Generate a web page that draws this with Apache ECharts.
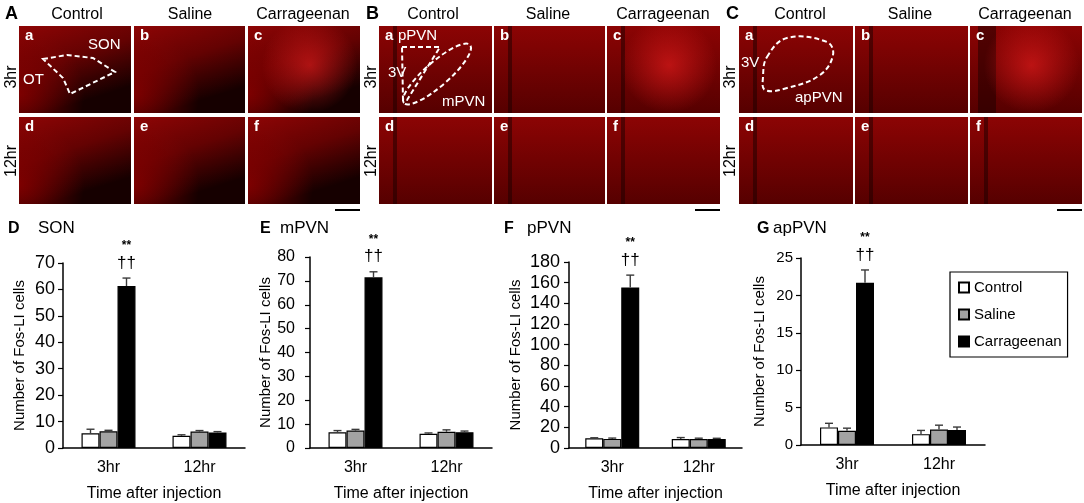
<!DOCTYPE html>
<html>
<head>
<meta charset="utf-8">
<script src="https://cdn.jsdelivr.net/npm/echarts@6/dist/echarts.min.js"></script>
<style>
  html, body { margin: 0; padding: 0; background: #fff; }
  #main { width: 1084px; height: 503px; }
</style>
</head>
<body>
<div id="main"></div>
<script>
var FONT = 'Liberation Sans, Arial, sans-serif';

/* categories */
var timeGroups = ['3hr', '12hr'];
var treatments = ['Control', 'Saline', 'Carrageenan'];
var treatmentColors = ['#ffffff', '#a3a3a3', '#000000'];

/* mean values, rows = Control, Saline, Carrageenan ; cols = 3hr, 12hr */
var sonMean = [[5.6, 4.6], [6.3, 6.2], [61.3, 5.9]];
var sonErr = [[1.5, 0.4], [0.4, 0.4], [3.0, 0.3]];
var mpvnMean = [[6.6, 6.0], [7.3, 6.8], [71.5, 6.6]];
var mpvnErr = [[0.7, 0.3], [0.5, 0.8], [2.3, 0.5]];
var ppvnMean = [[9.4, 8.6], [8.8, 8.6], [155.3, 8.6]];
var ppvnErr = [[0.5, 1.5], [0.8, 0.9], [12.0, 0.8]];
var appvnMean = [[2.35, 1.45], [1.9, 2.07], [21.7, 2.0]];
var appvnErr = [[0.55, 0.5], [0.35, 0.58], [1.7, 0.4]];

/* y axis ranges: min, max, interval */
var sonAxis = [0, 70, 10];
var mpvnAxis = [0, 80, 10];
var ppvnAxis = [0, 180, 20];
var appvnAxis = [0, 25, 5];

/* significance marks on Carrageenan 3hr */
var sigMarks = ['**', '††'];

var BAR_W = 18;

var panels = [
    {letter: 'D', title: 'SON', mean: sonMean, err: sonErr, axis: sonAxis,
     grid: {left: 63, top: 263, width: 182, height: 185}, nameGap: 36, labelSize: 18, labelMargin: 8, titleX: 8, nameX: 38},
    {letter: 'E', title: 'mPVN', mean: mpvnMean, err: mpvnErr, axis: mpvnAxis,
     grid: {left: 310, top: 257, width: 182, height: 191}, nameGap: 35, labelSize: 16, labelMargin: 15, titleX: 260, nameX: 280},
    {letter: 'F', title: 'pPVN', mean: ppvnMean, err: ppvnErr, axis: ppvnAxis,
     grid: {left: 569, top: 262, width: 173, height: 186}, nameGap: 46, labelSize: 18, labelMargin: 9, titleX: 504, nameX: 527},
    {letter: 'G', title: 'apPVN', mean: appvnMean, err: appvnErr, axis: appvnAxis,
     grid: {left: 801, top: 258, width: 184, height: 187}, nameGap: 34, labelSize: 15, labelMargin: 8, titleX: 757, nameX: 773}
];

function errorBarSeries(gi, ti, means, errs) {
    return {
        type: 'custom',
        xAxisIndex: gi,
        yAxisIndex: gi,
        z: 5,
        silent: true,
        data: means.map(function (m, i) { return [i, m, errs[i]]; }),
        encode: {x: 0, y: 1},
        renderItem: function (params, api) {
            var base = api.coord([api.value(0), api.value(1)]);
            var top = api.coord([api.value(0), api.value(1) + api.value(2)]);
            var x = base[0] + (ti - 1) * BAR_W;
            var st = {stroke: '#3a3a3a', lineWidth: 1.4};
            var children = [
                {type: 'line', shape: {x1: x, y1: base[1], x2: x, y2: top[1]}, style: st},
                {type: 'line', shape: {x1: x - 4, y1: top[1], x2: x + 4, y2: top[1]}, style: st}
            ];
            if (ti === 2 && params.dataIndex === 0) {
                children.push({type: 'text', x: x, y: top[1] - 15,
                    style: {text: sigMarks[1], fill: '#000', font: '17px ' + FONT,
                        textAlign: 'center', textVerticalAlign: 'middle'}});
                children.push({type: 'text', x: x, y: top[1] - 32,
                    style: {text: sigMarks[0], fill: '#000', font: 'bold 12px ' + FONT,
                        textAlign: 'center', textVerticalAlign: 'middle'}});
            }
            return {type: 'group', children: children};
        }
    };
}

var grids = [], xAxes = [], yAxes = [], series = [];
panels.forEach(function (p, gi) {
    grids.push(Object.assign({containLabel: false}, p.grid));
    xAxes.push({
        type: 'category', gridIndex: gi, data: timeGroups,
        axisLine: {lineStyle: {color: '#000', width: 1.5}},
        axisTick: {show: false},
        axisLabel: {color: '#000', fontSize: 16, fontFamily: FONT, margin: 12},
        name: 'Time after injection', nameLocation: 'middle', nameGap: 38,
        nameTextStyle: {color: '#000', fontSize: 16, fontFamily: FONT}
    });
    yAxes.push({
        type: 'value', gridIndex: gi, min: p.axis[0], max: p.axis[1], interval: p.axis[2],
        axisLine: {show: true, lineStyle: {color: '#000', width: 1.5}},
        axisTick: {show: true, length: 5, lineStyle: {color: '#000', width: 1.2}},
        splitLine: {show: false},
        axisLabel: {color: '#000', fontSize: p.labelSize, fontFamily: FONT, margin: p.labelMargin},
        name: 'Number of Fos-LI cells', nameLocation: 'middle', nameRotate: 90, nameGap: p.nameGap,
        nameTextStyle: {color: '#000', fontSize: 15, fontFamily: FONT}
    });
    treatments.forEach(function (t, ti) {
        series.push({
            name: t, type: 'bar', xAxisIndex: gi, yAxisIndex: gi,
            barWidth: BAR_W, barGap: '0%',
            data: p.mean[ti],
            itemStyle: {color: treatmentColors[ti], borderColor: '#000', borderWidth: 1.2}
        });
    });
    treatments.forEach(function (t, ti) {
        series.push(errorBarSeries(gi, ti, p.mean[ti], p.err[ti]));
    });
});

/* ---------- micrograph panels (decorative backdrop only) ---------- */
var graphics = [];
function txt(x, y, s, opt) {
    opt = opt || {};
    graphics.push({
        type: 'text', x: x, y: y, rotation: opt.rot || 0, z: 100,
        style: {text: s, fill: opt.fill || '#000', font: (opt.weight || 'normal') + ' ' + (opt.size || 16) + 'px ' + FONT,
            textAlign: opt.align || 'left', textVerticalAlign: 'middle'}
    });
}
function box(x, y, w, h, fill, z) {
    graphics.push({type: 'rect', shape: {x: x, y: y, width: w, height: h}, style: {fill: fill}, z: z || 1});
}
function radial(cx, cy, r, color) {
    return new echarts.graphic.RadialGradient(cx, cy, r, [
        {offset: 0, color: color}, {offset: 1, color: color.replace(/[\d.]+\)$/, '0)')}]);
}

var blocks = [
    {letter: 'A', lx: 5, cols: [[19, 131], [134, 245], [248, 360]], heads: [77, 190, 303], rowX: 12, kind: 'son'},
    {letter: 'B', lx: 366, cols: [[379, 492], [494, 605], [607, 720]], heads: [433, 548, 663], rowX: 372, kind: 'pvn'},
    {letter: 'C', lx: 726, cols: [[739, 853], [855, 968], [970, 1082]], heads: [800, 910, 1025], rowX: 731, kind: 'ap'}
];
var rows = [[26, 113], [117, 204]];
var sub = [['a', 'b', 'c'], ['d', 'e', 'f']];

blocks.forEach(function (b) {
    txt(b.lx, 14, b.letter, {weight: 'bold', size: 18});
    b.heads.forEach(function (hx, i) { txt(hx, 15, treatments[i], {align: 'center', size: 16}); });
    txt(b.rowX, 77, '3hr', {rot: Math.PI / 2, align: 'center', size: 16});
    txt(b.rowX, 161, '12hr', {rot: Math.PI / 2, align: 'center', size: 16});
    rows.forEach(function (r, ri) {
        b.cols.forEach(function (c, ci) {
            var w = c[1] - c[0], h = r[1] - r[0];
            if (b.kind === 'son') {
                box(c[0], r[0], w, h, new echarts.graphic.LinearGradient(0, 0, 0.25, 1, [
                    {offset: 0, color: '#8e0505'}, {offset: 0.5, color: '#640202'}, {offset: 1, color: '#160000'}]));
                box(c[0], r[0], w, h, radial(0.0, 0.78, 0.75, 'rgba(135,0,0,0.85)'), 2);
            } else {
                box(c[0], r[0], w, h, new echarts.graphic.LinearGradient(0, 0, 0, 1, [
                    {offset: 0, color: '#8c0404'}, {offset: 1, color: '#560000'}]));
                var bandW = (b.kind === 'ap' && ci === 2 && ri === 0) ? 18 : 4;
                var bandX = (b.kind === 'ap' && ci === 2 && ri === 0) ? 8 : 14;
                box(c[0] + bandX, r[0], bandW, h, 'rgba(25,0,0,0.5)', 2);
            }
            if (ri === 0 && ci === 2) {
                box(c[0], r[0], w, h, radial(0.55, 0.45, 0.55, 'rgba(235,30,30,0.6)'), 3);
            }
            txt(c[0] + 6, r[0] + 10, sub[ri][ci], {fill: '#fff', weight: 'bold', size: 15});
        });
    });
    var sb = b.cols[2][1];
    graphics.push({type: 'line', shape: {x1: sb - 25, y1: 210, x2: sb, y2: 210}, style: {stroke: '#000', lineWidth: 2}});
});

var dash = {stroke: '#fff', lineWidth: 2, lineDash: [5, 3], fill: null};
graphics.push({type: 'polygon', z: 50, shape: {points: [[43, 59], [67, 55], [93, 58], [115, 72], [70, 94], [63, 78]]}, style: dash});
txt(88, 45, 'SON', {fill: '#fff', size: 15});
txt(23, 80, 'OT', {fill: '#fff', size: 15});
graphics.push({type: 'polygon', z: 50, shape: {points: [[402, 47], [440, 47], [407, 100], [403, 100]]}, style: dash});
graphics.push({type: 'ellipse', z: 50, shape: {cx: 437, cy: 74, rx: 44, ry: 12}, rotation: 0.72, originX: 437, originY: 74, style: dash});
txt(398, 36, 'pPVN', {fill: '#fff', size: 15});
txt(388, 73, '3V', {fill: '#fff', size: 15});
txt(442, 102, 'mPVN', {fill: '#fff', size: 15});
graphics.push({type: 'polygon', z: 50, shape: {points: [[767, 57], [787, 38], [827, 42], [833, 55], [820, 75], [787, 88], [765, 90], [763, 77]], smooth: 0.4}, style: dash});
txt(741, 63, '3V', {fill: '#fff', size: 15});
txt(795, 98, 'apPVN', {fill: '#fff', size: 15});

/* bar chart panel titles */
panels.forEach(function (p) {
    txt(p.titleX, 229, p.letter, {weight: 'bold', size: 16});
    txt(p.nameX, 228, p.title, {size: 17});
});

var myChart = echarts.init(document.getElementById('main'), null, {renderer: 'canvas'});
var option = {
    backgroundColor: '#fff',
    animation: false,
    textStyle: {fontFamily: FONT},
    grid: grids,
    xAxis: xAxes,
    yAxis: yAxes,
    legend: {
        data: treatments,
        orient: 'vertical',
        left: 950, top: 272,
        icon: 'rect', itemWidth: 10, itemHeight: 10, itemGap: 12,
        padding: [8, 6, 8, 8],
        borderColor: '#000', borderWidth: 1.2,
        textStyle: {color: '#000', fontSize: 15, fontFamily: FONT},
        selectedMode: false
    },
    series: series,
    graphic: {elements: graphics}
};
myChart.setOption(option);
</script>
</body>
</html>
